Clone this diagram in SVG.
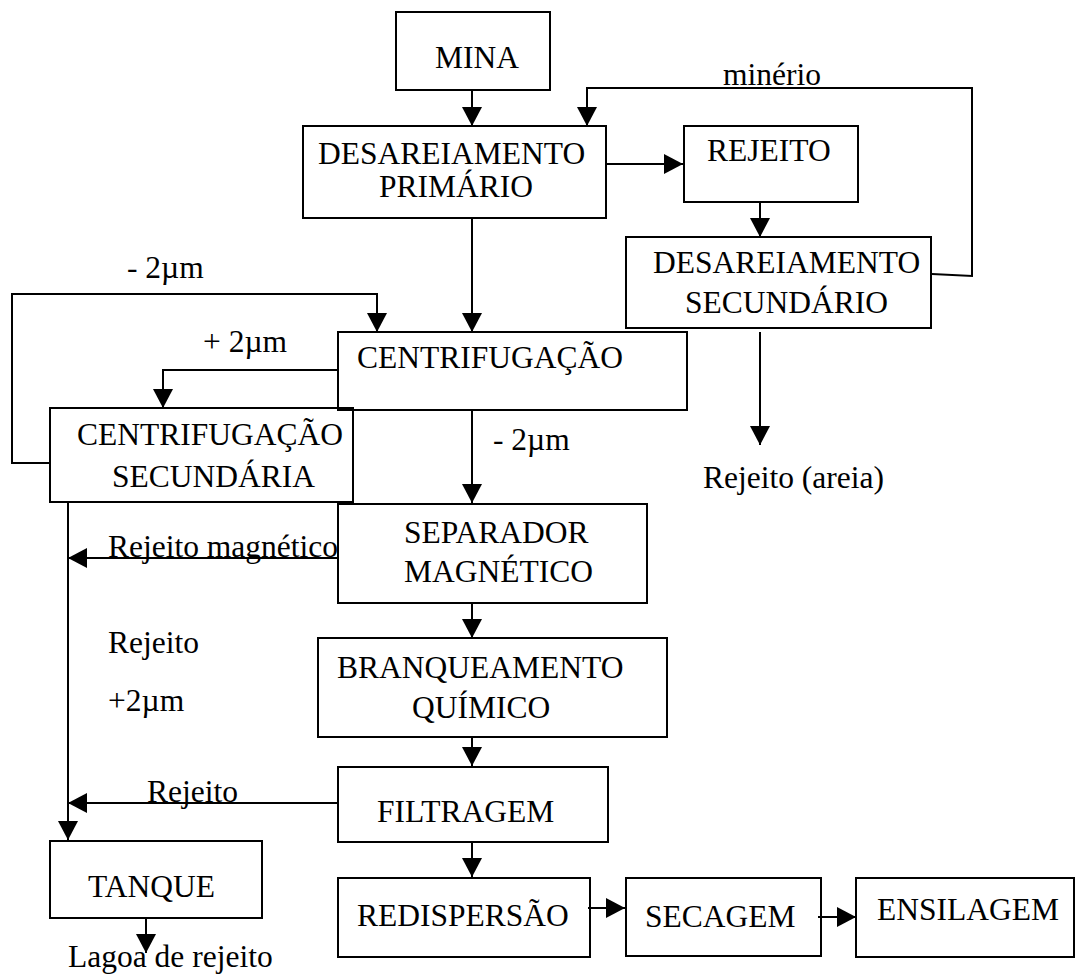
<svg xmlns="http://www.w3.org/2000/svg" width="1076" height="976" viewBox="0 0 1076 976">
<style>
.box{fill:none;stroke:#000;stroke-width:2}
.c{fill:none;stroke:#000;stroke-width:2}
text{font-family:"Liberation Serif","Times New Roman",serif;font-size:31.5px;fill:#000}
</style>
<defs>
<marker id="ah" markerUnits="userSpaceOnUse" markerWidth="20" markerHeight="20" refX="19" refY="10" orient="auto">
<path d="M0,0 L19,10 L0,20 z" fill="#000"/>
</marker>
</defs>
<rect width="1076" height="976" fill="#fff"/>
<g id="connectors">
<path class="c" d="M472,90 V126" marker-end="url(#ah)"/>
<path class="c" d="M606,164 H683" marker-end="url(#ah)"/>
<path class="c" d="M760,202 V237" marker-end="url(#ah)"/>
<path class="c" d="M932,274 L972,276 V88 H587 V126" marker-end="url(#ah)"/>
<path class="c" d="M760,332 V445" marker-end="url(#ah)"/>
<path class="c" d="M472,218 V332" marker-end="url(#ah)"/>
<path class="c" d="M50,463 H12 V294 H377 V332" marker-end="url(#ah)"/>
<path class="c" d="M338,370 H163 V408" marker-end="url(#ah)"/>
<path class="c" d="M472,410 V503" marker-end="url(#ah)"/>
<path class="c" d="M68,502 V840" marker-end="url(#ah)"/>
<path class="c" d="M338,558 H68" marker-end="url(#ah)"/>
<path class="c" d="M472,603 V638" marker-end="url(#ah)"/>
<path class="c" d="M472,737 V766" marker-end="url(#ah)"/>
<path class="c" d="M338,803 H68" marker-end="url(#ah)"/>
<path class="c" d="M472,842 V877" marker-end="url(#ah)"/>
<path class="c" d="M146,918 V953" marker-end="url(#ah)"/>
<path class="c" d="M588,908 H625" marker-end="url(#ah)"/>
<path class="c" d="M818,917 H856" marker-end="url(#ah)"/>
<text x="723" y="85">minério</text>
<text x="703" y="488">Rejeito (areia)</text>
<text x="127" y="278">- 2µm</text>
<text x="203" y="352">+ 2µm</text>
<text x="493" y="450">- 2µm</text>
<text x="108" y="557">Rejeito magnético</text>
<text x="108" y="653">Rejeito</text>
<text x="108" y="711">+2µm</text>
<text x="147" y="802">Rejeito</text>
<text x="68" y="967">Lagoa de rejeito</text>
</g>
<g id="mina"><rect class="box" x="396" y="12" width="154" height="78"/><text x="435" y="68">MINA</text></g>
<g id="desar-primario"><rect class="box" x="303" y="126" width="303" height="92"/><text x="318" y="164">DESAREIAMENTO</text><text x="379" y="197">PRIMÁRIO</text></g>
<g id="rejeito"><rect class="box" x="684" y="126" width="174" height="76"/><text x="707" y="161">REJEITO</text></g>
<g id="desar-secundario"><rect class="box" x="626" y="237" width="305" height="91"/><text x="653" y="273">DESAREIAMENTO</text><text x="685" y="313">SECUNDÁRIO</text></g>
<g id="centrifugacao"><rect class="box" x="338" y="332" width="349" height="78"/><text x="357" y="368">CENTRIFUGAÇÃO</text></g>
<g id="centrif-secundaria"><rect class="box" x="50" y="408" width="303" height="94"/><text x="77" y="445">CENTRIFUGAÇÃO</text><text x="112" y="487">SECUNDÁRIA</text></g>
<g id="separador"><rect class="box" x="338" y="504" width="309" height="99"/><text x="404" y="543">SEPARADOR</text><text x="404" y="582">MAGNÉTICO</text></g>
<g id="branqueamento"><rect class="box" x="318" y="638" width="349" height="99"/><text x="337" y="678">BRANQUEAMENTO</text><text x="412" y="718">QUÍMICO</text></g>
<g id="filtragem"><rect class="box" x="338" y="767" width="270" height="75"/><text x="377" y="822">FILTRAGEM</text></g>
<g id="tanque"><rect class="box" x="50" y="841" width="212" height="77"/><text x="88" y="897">TANQUE</text></g>
<g id="redispersao"><rect class="box" x="338" y="878" width="252" height="79"/><text x="357" y="926">REDISPERSÃO</text></g>
<g id="secagem"><rect class="box" x="626" y="878" width="195" height="78"/><text x="645" y="927">SECAGEM</text></g>
<g id="ensilagem"><rect class="box" x="856" y="878" width="218" height="79"/><text x="877" y="920">ENSILAGEM</text></g>
</svg>
